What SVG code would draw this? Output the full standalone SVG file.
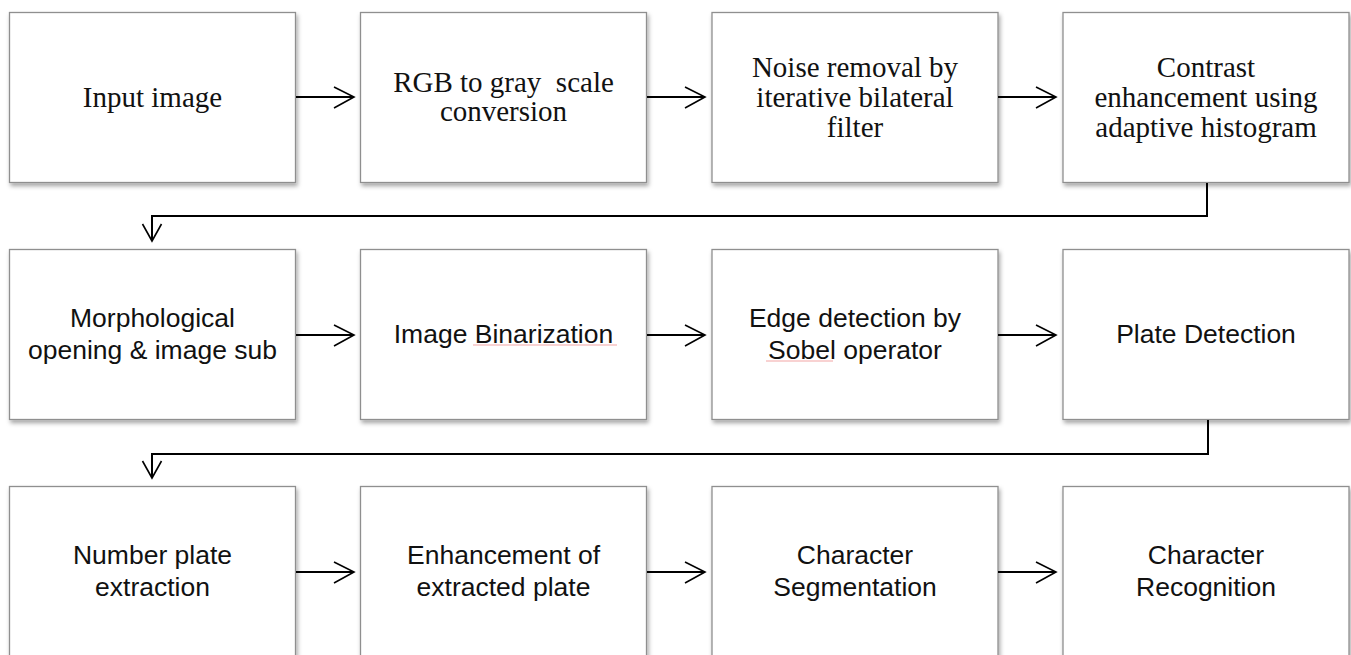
<svg xmlns="http://www.w3.org/2000/svg" width="1351" height="655" viewBox="0 0 1351 655">
<defs>
<filter id="sh" x="-5%" y="-5%" width="112%" height="115%">
<feDropShadow dx="1.5" dy="3" stdDeviation="2" flood-color="#000" flood-opacity="0.35"/>
</filter>
<style>
.box{fill:#fff;stroke:#8f8f8f;stroke-width:1.3;filter:url(#sh)}
.t1{font-family:"Liberation Serif","Times New Roman",serif;font-size:29px;fill:#111;text-anchor:middle}
.t2{font-family:"Liberation Sans",Arial,sans-serif;font-size:26.5px;fill:#111;text-anchor:middle}
.ln{fill:none;stroke:#000;stroke-width:2}
.hd{fill:none;stroke:#000;stroke-width:1.6}
.sp{fill:none;stroke:#f2a5a5;stroke-width:1}
</style>
</defs>
<rect width="1351" height="655" fill="#fff"/>
<g id="n1"><rect class="box" x="9.5" y="12.5" width="286" height="170"/><text class="t1" x="152.5" y="107">Input image</text></g>
<g id="n2"><rect class="box" x="360.5" y="12.5" width="286" height="170"/><text class="t1" x="503.5" y="92" xml:space="preserve">RGB to gray  scale</text><text class="t1" x="503.5" y="121">conversion</text></g>
<g id="n3"><rect class="box" x="712" y="12.5" width="286" height="170"/><text class="t1" x="855" y="77">Noise removal by</text><text class="t1" x="855" y="107">iterative bilateral</text><text class="t1" x="855" y="137">filter</text></g>
<g id="n4"><rect class="box" x="1063" y="12.5" width="286" height="170"/><text class="t1" x="1206" y="77">Contrast</text><text class="t1" x="1206" y="107">enhancement using</text><text class="t1" x="1206" y="137">adaptive histogram</text></g>
<g id="n5"><rect class="box" x="9.5" y="249.5" width="286" height="170"/><text class="t2" x="152.5" y="327">Morphological</text><text class="t2" x="152.5" y="359">opening &amp; image sub</text></g>
<g id="n6"><rect class="box" x="360.5" y="249.5" width="286" height="170"/><text class="t2" x="503.5" y="343">Image Binarization</text><path class="sp" d="M473 345 H617"/></g>
<g id="n7"><rect class="box" x="712" y="249.5" width="286" height="170"/><text class="t2" x="855" y="327">Edge detection by</text><text class="t2" x="855" y="359">Sobel operator</text><path class="sp" d="M766 361 H833"/></g>
<g id="n8"><rect class="box" x="1063" y="249.5" width="286" height="170"/><text class="t2" x="1206" y="343">Plate Detection</text></g>
<g id="n9"><rect class="box" x="9.5" y="486.5" width="286" height="175"/><text class="t2" x="152.5" y="564">Number plate</text><text class="t2" x="152.5" y="596">extraction</text></g>
<g id="n10"><rect class="box" x="360.5" y="486.5" width="286" height="175"/><text class="t2" x="503.5" y="564">Enhancement of</text><text class="t2" x="503.5" y="596">extracted plate</text></g>
<g id="n11"><rect class="box" x="712" y="486.5" width="286" height="175"/><text class="t2" x="855" y="564">Character</text><text class="t2" x="855" y="596">Segmentation</text></g>
<g id="n12"><rect class="box" x="1063" y="486.5" width="286" height="175"/><text class="t2" x="1206" y="564">Character</text><text class="t2" x="1206" y="596">Recognition</text></g>
<g id="connectors">
<path class="ln" d="M296 97 H353"/><path class="hd" d="M334 87 L354 97 L334 108"/>
<path class="ln" d="M647 97 H704"/><path class="hd" d="M685 87 L705 97 L685 108"/>
<path class="ln" d="M998 97 H1055"/><path class="hd" d="M1036 87 L1056 97 L1036 108"/>
<path class="ln" d="M1207 183 V216 H152 V240"/><path class="hd" d="M142.5 224 L152 241 L161.5 224"/>
<path class="ln" d="M296 335 H353"/><path class="hd" d="M334 325 L354 335 L334 346"/>
<path class="ln" d="M647 335 H704"/><path class="hd" d="M685 325 L705 335 L685 346"/>
<path class="ln" d="M998 335 H1055"/><path class="hd" d="M1036 325 L1056 335 L1036 346"/>
<path class="ln" d="M1208 420 V454 H152 V477"/><path class="hd" d="M142.5 461 L152 478 L161.5 461"/>
<path class="ln" d="M296 572 H353"/><path class="hd" d="M334 562 L354 572 L334 583"/>
<path class="ln" d="M647 572 H704"/><path class="hd" d="M685 562 L705 572 L685 583"/>
<path class="ln" d="M998 572 H1055"/><path class="hd" d="M1036 562 L1056 572 L1036 583"/>
</g>
</svg>
